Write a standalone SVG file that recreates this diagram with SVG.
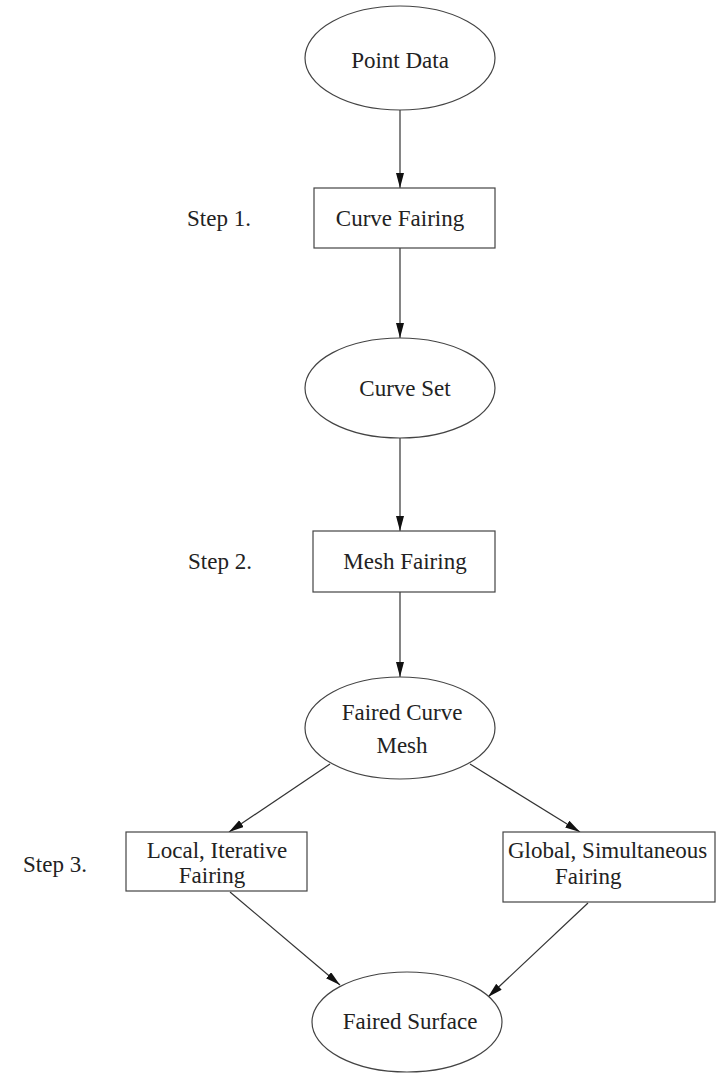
<svg xmlns="http://www.w3.org/2000/svg" width="719" height="1074" viewBox="0 0 719 1074">
<style>
.n{fill:#fff;stroke:#444;stroke-width:1.2}
.t{font-family:"Liberation Serif","Times New Roman",serif;font-size:23px;fill:#222}
.c line{stroke:#333;stroke-width:1.2;fill:none}
</style>
<defs>
<marker id="ah" markerUnits="userSpaceOnUse" markerWidth="16" markerHeight="10" refX="15" refY="4" orient="auto">
<path d="M0,0 L15,4 L0,8 z" fill="#111"/>
</marker>
</defs>
<rect width="719" height="1074" fill="#fff"/>
<g class="c">
<line x1="400" y1="110" x2="400" y2="188" marker-end="url(#ah)"/>
<line x1="400" y1="248" x2="400" y2="338" marker-end="url(#ah)"/>
<line x1="400" y1="437" x2="400" y2="531" marker-end="url(#ah)"/>
<line x1="400" y1="592" x2="400" y2="677" marker-end="url(#ah)"/>
<line x1="330" y1="764" x2="229" y2="832" marker-end="url(#ah)"/>
<line x1="470" y1="764" x2="580" y2="832" marker-end="url(#ah)"/>
<line x1="230" y1="892" x2="340" y2="985" marker-end="url(#ah)"/>
<line x1="588" y1="903" x2="488" y2="997" marker-end="url(#ah)"/>
</g>
<g id="point-data"><ellipse class="n" cx="400" cy="58" rx="95" ry="52"/><text class="t" x="400" y="68" text-anchor="middle">Point Data</text></g>
<g id="curve-fairing"><rect class="n" x="314" y="188" width="181" height="60"/><text class="t" x="400" y="226" text-anchor="middle">Curve Fairing</text></g>
<g id="step1"><text class="t" x="187" y="226">Step 1.</text></g>
<g id="curve-set"><ellipse class="n" cx="400" cy="388" rx="95" ry="50"/><text class="t" x="405" y="396" text-anchor="middle">Curve Set</text></g>
<g id="mesh-fairing"><rect class="n" x="313" y="531" width="182" height="61"/><text class="t" x="405" y="569" text-anchor="middle">Mesh Fairing</text></g>
<g id="step2"><text class="t" x="188" y="569">Step 2.</text></g>
<g id="faired-curve-mesh"><ellipse class="n" cx="400" cy="728" rx="95" ry="51"/><text class="t" x="402" y="720" text-anchor="middle">Faired Curve</text><text class="t" x="402" y="753" text-anchor="middle">Mesh</text></g>
<g id="local-fairing"><rect class="n" x="126" y="832" width="181" height="59"/><text class="t" x="217" y="858" text-anchor="middle">Local, Iterative</text><text class="t" x="212" y="883" text-anchor="middle">Fairing</text></g>
<g id="step3"><text class="t" x="23" y="872">Step 3.</text></g>
<g id="global-fairing"><rect class="n" x="503" y="832" width="212" height="70"/><text class="t" x="508" y="858">Global, Simultaneous</text><text class="t" x="555" y="884">Fairing</text></g>
<g id="faired-surface"><ellipse class="n" cx="407" cy="1022" rx="95" ry="50"/><text class="t" x="410" y="1029" text-anchor="middle">Faired Surface</text></g>
</svg>
